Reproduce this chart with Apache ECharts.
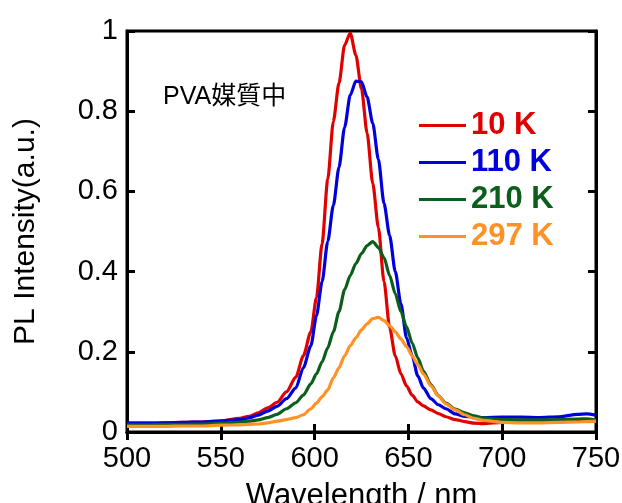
<!DOCTYPE html>
<html>
<head>
<meta charset="utf-8">
<script src="https://cdn.jsdelivr.net/npm/echarts@6/dist/echarts.min.js"></script>
<style>
html,body{margin:0;padding:0;background:#fff;}
#chart{width:622px;height:503px;}
</style>
</head>
<body>
<div id="chart"></div>
<script>
const wavelengths = [500,510,520,530,540,550,560,565,570,575,580,585,590,594,598,601,604,607,610,613,616,619,622,625,628,631,634,637,640,643,646,649,652,655,658,662,666,670,675,680,685,690,700,710,720,730,740,745,750];
const k10 = [0.022,0.022,0.023,0.024,0.025,0.028,0.034,0.039,0.048,0.060,0.074,0.100,0.137,0.190,0.250,0.335,0.470,0.630,0.775,0.870,0.965,0.995,0.940,0.855,0.745,0.620,0.510,0.375,0.260,0.190,0.145,0.115,0.092,0.075,0.065,0.055,0.046,0.038,0.031,0.026,0.022,0.021,0.024,0.026,0.027,0.027,0.030,0.029,0.028];
const k110 = [0.022,0.022,0.023,0.024,0.025,0.027,0.031,0.035,0.042,0.052,0.064,0.083,0.110,0.160,0.215,0.290,0.375,0.475,0.565,0.660,0.760,0.840,0.875,0.873,0.835,0.770,0.680,0.570,0.490,0.400,0.320,0.235,0.190,0.140,0.110,0.083,0.068,0.058,0.045,0.039,0.037,0.036,0.037,0.037,0.036,0.038,0.044,0.045,0.042];
const k210 = [0.018,0.018,0.019,0.019,0.020,0.022,0.025,0.027,0.030,0.036,0.044,0.058,0.073,0.092,0.120,0.145,0.175,0.210,0.250,0.300,0.355,0.390,0.420,0.445,0.465,0.475,0.460,0.435,0.390,0.345,0.300,0.262,0.222,0.185,0.152,0.118,0.090,0.072,0.057,0.048,0.040,0.035,0.031,0.030,0.030,0.031,0.032,0.033,0.030];
const k297 = [0.014,0.014,0.014,0.015,0.015,0.017,0.018,0.019,0.020,0.023,0.027,0.031,0.036,0.043,0.058,0.072,0.088,0.105,0.135,0.160,0.190,0.215,0.235,0.255,0.270,0.283,0.286,0.278,0.265,0.250,0.232,0.213,0.190,0.168,0.145,0.115,0.090,0.070,0.055,0.043,0.034,0.029,0.024,0.023,0.023,0.024,0.025,0.026,0.027];
const seriesNames = ['10 K','110 K','210 K','297 K'];
const seriesColors = ['#e00000','#0000dd','#0b5e1c','#ff9224'];
const seriesValues = [k10,k110,k210,k297];
const xTicks = [500,550,600,650,700,750];
const yTicks = [0,0.2,0.4,0.6,0.8,1];

const FONT = "'Liberation Sans', Arial, sans-serif";
const chart = echarts.init(document.getElementById('chart'), null, {renderer:'canvas'});

const series = seriesNames.map((n,i)=>({
  name:n, type:'line', showSymbol:false, symbol:'none',
  smooth:0.25, smoothMonotone:'x',
  xAxisIndex:0, yAxisIndex:0,
  data: wavelengths.map((w,j)=>[w, seriesValues[i][j]]),
  lineStyle:{color:seriesColors[i], width:3.2},
  itemStyle:{color:seriesColors[i]},
  animation:false
}));

const baseX = {type:'value', min:xTicks[0], max:xTicks[xTicks.length-1], interval:50};
const baseY = {type:'value', min:yTicks[0], max:yTicks[yTicks.length-1], interval:0.2};

chart.setOption({
  animation:false,
  grid:{left:127, right:26, top:31, bottom:71, show:true, borderColor:'#000', borderWidth:3,
        backgroundColor:'transparent', containLabel:false, outerBoundsMode:'none'},
  legend:{
    orient:'vertical', left:414, top:105, itemWidth:47, itemHeight:3, itemGap:6, icon:'rect',
    data: seriesNames.map((n,i)=>({name:n, textStyle:{color:seriesColors[i]}})),
    textStyle:{fontFamily:FONT, fontSize:31, fontWeight:'bold', lineHeight:30}
  },
  xAxis:[
    Object.assign({}, baseX, {
      position:'bottom', name:'Wavelength / nm', nameLocation:'middle', nameGap:49,
      nameMoveOverlap:false,
      nameTextStyle:{fontFamily:FONT, fontSize:31, color:'#000'},
      axisLine:{show:true, lineStyle:{color:'#000', width:3}},
      axisTick:{show:true, inside:true, length:8, lineStyle:{color:'#000', width:3}},
      axisLabel:{show:true, margin:12, fontFamily:FONT, fontSize:29, color:'#000',
        formatter:v=>String(v)},
      splitLine:{show:false}
    }),
    Object.assign({}, baseX, {
      position:'top',
      axisLine:{show:true, lineStyle:{color:'#000', width:3}},
      axisTick:{show:true, inside:true, length:8, lineStyle:{color:'#000', width:3}},
      axisLabel:{show:false}, splitLine:{show:false}
    })
  ],
  yAxis:[
    Object.assign({}, baseY, {
      position:'left', name:'PL Intensity(a.u.)', nameLocation:'middle', nameGap:86,
      nameMoveOverlap:false,
      nameTextStyle:{fontFamily:FONT, fontSize:30, color:'#000'},
      axisLine:{show:true, lineStyle:{color:'#000', width:3}},
      axisTick:{show:true, inside:true, length:8, lineStyle:{color:'#000', width:3}},
      axisLabel:{show:true, margin:9, fontFamily:FONT, fontSize:29, color:'#000',
        formatter:v=>String(Math.round(v*10)/10)},
      splitLine:{show:false}
    }),
    Object.assign({}, baseY, {
      position:'right',
      axisLine:{show:true, lineStyle:{color:'#000', width:3}},
      axisTick:{show:true, inside:true, length:8, lineStyle:{color:'#000', width:3}},
      axisLabel:{show:false}, splitLine:{show:false}
    })
  ],
  graphic:[{
    type:'text', left:163, top:85, silent:true,
    style:{text:'PVA媒質中', fill:'#000', font:"25px 'Liberation Sans', 'Noto Sans CJK JP', sans-serif"}
  }],
  series: series
});
</script>
</body>
</html>
